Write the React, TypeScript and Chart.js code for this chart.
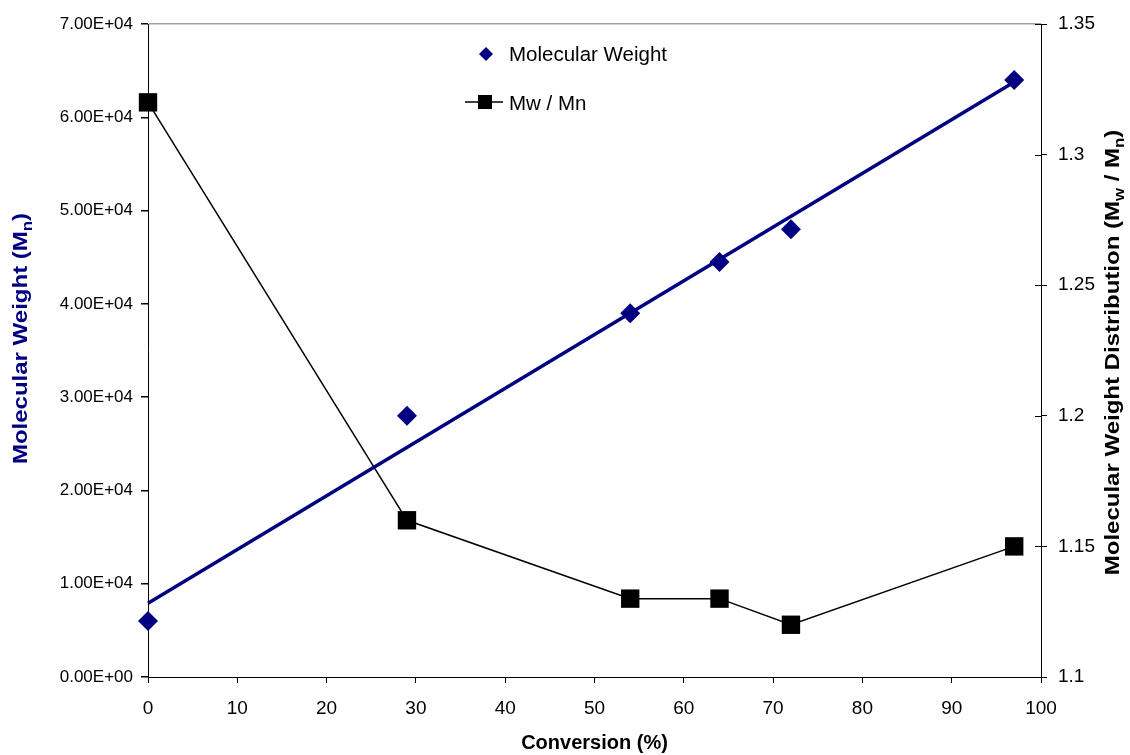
import { useEffect, useRef } from "react";
import { Chart, registerables } from "chart.js";

Chart.register(...registerables);

// ---- Data ----
const conversion = [0, 29, 54, 64, 72, 97];
const molecularWeight = [6000, 28000, 39000, 44500, 48000, 64000];
const mwMnRatio = [1.32, 1.16, 1.13, 1.13, 1.12, 1.15];

const xTickLabels = ["0", "10", "20", "30", "40", "50", "60", "70", "80", "90", "100"];
const leftTickLabels = ["0.00E+00", "1.00E+04", "2.00E+04", "3.00E+04", "4.00E+04", "5.00E+04", "6.00E+04", "7.00E+04"];
const rightTickLabels = ["1.1", "1.15", "1.2", "1.25", "1.3", "1.35"];

const legendLabels = ["Molecular Weight", "Mw / Mn"];

// Linear least-squares trendline through the molecular weight points (as in the source chart)
function linearFit(xs: number[], ys: number[]) {
  const n = xs.length;
  const mx = xs.reduce((a, b) => a + b, 0) / n;
  const my = ys.reduce((a, b) => a + b, 0) / n;
  let sxy = 0;
  let sxx = 0;
  for (let i = 0; i < n; i++) {
    sxy += (xs[i] - mx) * (ys[i] - my);
    sxx += (xs[i] - mx) * (xs[i] - mx);
  }
  const slope = sxy / sxx;
  return { slope, intercept: my - slope * mx };
}

const FONT = "'Liberation Sans', Arial, Helvetica, sans-serif";
const NAVY = "#000080";

function drawRotatedRich(
  ctx: CanvasRenderingContext2D,
  cx: number,
  cy: number,
  parts: { t: string; sub?: boolean }[],
  size: number,
  color: string,
  stretch: number
) {
  const mainFont = `bold ${size}px ${FONT}`;
  const subFont = `bold ${Math.round(size * 0.68)}px ${FONT}`;
  ctx.save();
  let total = 0;
  const widths: number[] = [];
  for (const p of parts) {
    ctx.font = p.sub ? subFont : mainFont;
    const w = ctx.measureText(p.t).width;
    widths.push(w);
    total += w;
  }
  ctx.translate(cx, cy);
  ctx.rotate(-Math.PI / 2);
  ctx.scale(stretch, 1);
  ctx.fillStyle = color;
  ctx.textBaseline = "alphabetic";
  ctx.textAlign = "left";
  const base = size * 0.36;
  let x = -total / 2;
  parts.forEach((p, i) => {
    ctx.font = p.sub ? subFont : mainFont;
    ctx.fillText(p.t, x, p.sub ? base + size * 0.22 : base);
    x += widths[i];
  });
  ctx.restore();
}

const decorPlugin = {
  id: "decor",
  afterDraw(chart: any) {
    const ctx: CanvasRenderingContext2D = chart.ctx;
    const area = chart.chartArea;
    const y2 = chart.scales.y2;

    // inner half of the right-axis tick marks (they cross the axis)
    ctx.save();
    ctx.strokeStyle = "#000";
    ctx.lineWidth = 1;
    y2.ticks.forEach((t: any) => {
      const py = Math.round(y2.getPixelForValue(t.value)) + 0.5;
      ctx.beginPath();
      ctx.moveTo(area.right - 6, py);
      ctx.lineTo(area.right, py);
      ctx.stroke();
    });
    ctx.restore();

    // axis titles
    ctx.save();
    ctx.font = `bold 20px ${FONT}`;
    ctx.fillStyle = "#000";
    ctx.textAlign = "center";
    ctx.textBaseline = "middle";
    ctx.fillText("Conversion (%)", (area.left + area.right) / 2, 743);
    ctx.restore();

    const midY = (area.top + area.bottom) / 2 + 2;
    drawRotatedRich(
      ctx,
      20,
      midY - 14,
      [{ t: "Molecular Weight (M" }, { t: "n", sub: true }, { t: ")" }],
      20,
      NAVY,
      1.2
    );
    drawRotatedRich(
      ctx,
      1112,
      midY,
      [
        { t: "Molecular Weight Distribution (M" },
        { t: "w", sub: true },
        { t: " / M" },
        { t: "n", sub: true },
        { t: ")" },
      ],
      20,
      "#000",
      1.2
    );

    // legend
    ctx.save();
    ctx.fillStyle = NAVY;
    ctx.beginPath();
    ctx.moveTo(486, 47);
    ctx.lineTo(493, 54);
    ctx.lineTo(486, 61);
    ctx.lineTo(479, 54);
    ctx.closePath();
    ctx.fill();

    ctx.strokeStyle = "#000";
    ctx.lineWidth = 1.5;
    ctx.beginPath();
    ctx.moveTo(465, 102);
    ctx.lineTo(503, 102);
    ctx.stroke();
    ctx.fillStyle = "#000";
    ctx.fillRect(478, 95, 14, 14);

    ctx.font = `20.5px ${FONT}`;
    ctx.textAlign = "left";
    ctx.textBaseline = "alphabetic";
    ctx.fillText(legendLabels[0], 509, 61);
    ctx.fillText(legendLabels[1], 509, 110);
    ctx.restore();
  },
};

export default function App() {
  const canvasRef = useRef<HTMLCanvasElement | null>(null);

  useEffect(() => {
    const canvas = canvasRef.current;
    if (!canvas) return;
    const fit = linearFit(conversion, molecularWeight);
    const xFirst = conversion[0];
    const xLast = conversion[conversion.length - 1];

    const chart = new Chart(canvas, {
      type: "scatter",
      data: {
        datasets: [
          {
            label: legendLabels[0],
            data: conversion.map((x, i) => ({ x, y: molecularWeight[i] })),
            yAxisID: "y",
            showLine: false,
            pointStyle: "rectRot",
            pointRadius: 10,
            pointHoverRadius: 10,
            backgroundColor: NAVY,
            borderColor: NAVY,
            borderWidth: 0,
            clip: false,
            order: 1,
          },
          {
            label: "Trendline",
            data: [
              { x: xFirst, y: fit.intercept + fit.slope * xFirst },
              { x: xLast, y: fit.intercept + fit.slope * xLast },
            ],
            yAxisID: "y",
            showLine: true,
            borderColor: NAVY,
            borderWidth: 3.5,
            pointRadius: 0,
            pointHoverRadius: 0,
            clip: false,
            order: 2,
          },
          {
            label: legendLabels[1],
            data: conversion.map((x, i) => ({ x, y: mwMnRatio[i] })),
            yAxisID: "y2",
            showLine: true,
            borderColor: "#000",
            borderWidth: 1.5,
            pointStyle: "rect",
            pointRadius: 13,
            pointHoverRadius: 13,
            backgroundColor: "#000",
            pointBorderWidth: 0,
            clip: false,
            order: 3,
          },
        ],
      },
      options: {
        responsive: false,
        animation: false,
        events: [],
        layout: { padding: { top: 24, left: 0, right: 0, bottom: 0 } },
        plugins: {
          legend: { display: false },
          tooltip: { enabled: false },
          title: { display: false },
        },
        scales: {
          x: {
            type: "linear",
            position: "bottom",
            min: 0,
            max: 100,
            ticks: {
              stepSize: 10,
              color: "#000",
              font: { family: FONT, size: 19 },
              padding: 14,
              maxRotation: 0,
              callback: (v: any) => xTickLabels[Math.round(Number(v) / 10)],
            },
            grid: { drawOnChartArea: false, tickLength: 6, tickColor: "#000", color: "#000" },
            border: { color: "#000", width: 1 },
            afterFit: (s: any) => {
              s.height = 78;
            },
          },
          y: {
            type: "linear",
            position: "left",
            min: 0,
            max: 70000,
            ticks: {
              stepSize: 10000,
              color: "#000",
              font: { family: FONT, size: 17 },
              padding: 8,
              callback: (v: any) => leftTickLabels[Math.round(Number(v) / 10000)],
            },
            grid: {
              drawOnChartArea: true,
              tickLength: 7,
              tickColor: "#000",
              color: (c: any) => (c.tick && c.tick.value === 70000 ? "#a0a0a0" : "rgba(0,0,0,0)"),
              lineWidth: 1.5,
            },
            border: { color: "#000", width: 1 },
            afterFit: (s: any) => {
              s.width = 148;
            },
          },
          y2: {
            type: "linear",
            position: "right",
            min: 1.1,
            max: 1.35,
            ticks: {
              stepSize: 0.05,
              color: "#000",
              font: { family: FONT, size: 19 },
              padding: 11,
              callback: (v: any) => rightTickLabels[Math.round((Number(v) - 1.1) / 0.05)],
            },
            grid: { drawOnChartArea: false, tickLength: 6, tickColor: "#000", color: "#000" },
            border: { color: "#000", width: 1 },
            afterFit: (s: any) => {
              s.width = 89;
            },
          },
        },
      } as any,
      plugins: [decorPlugin],
    });
    return () => chart.destroy();
  }, []);

  return (
    <div style={{ position: "fixed", left: 0, top: 0, width: 1130, height: 755, background: "#fff" }}>
      <canvas ref={canvasRef} width={1130} height={755} style={{ display: "block" }} />
    </div>
  );
}
